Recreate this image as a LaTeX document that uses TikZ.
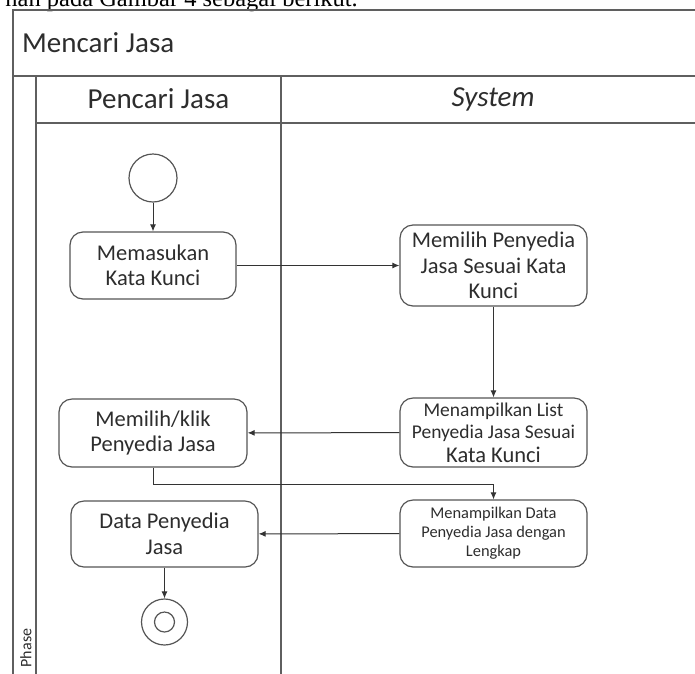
\documentclass[tikz,border=0pt]{standalone}
\usepackage{fontspec}
\setmainfont{Carlito}
\newfontfamily\serifdoc{Liberation Serif}
\usetikzlibrary{arrows.meta,calc}
\definecolor{lanecol}{RGB}{95,95,95}
\definecolor{boxcol}{RGB}{85,85,85}
\definecolor{txtcol}{RGB}{45,45,45}
\newcommand{\smlist}{\fontsize{19.5}{23}\selectfont}
\tikzset{
  lane/.style={draw=lanecol, line width=1.6pt},
  act/.style={draw=boxcol, line width=1.2pt, rounded corners=13pt, align=center,
    text=txtcol, inner sep=0pt, font=\fontsize{22.5}{25.5}\selectfont},
  flow/.style={draw=black!80, line width=1pt, -{Latex[length=7pt,width=6pt]}},
  head/.style={text=txtcol, font=\fontsize{29}{32}\selectfont, inner sep=0pt},
}
\begin{document}
\begin{tikzpicture}[x=1pt,y=-1pt]
\useasboundingbox (0,0) rectangle (695,673);
\clip (0,0) rectangle (695,673);
% clipped caption line above
\node[anchor=base east, inner sep=0pt, font=\serifdoc\fontsize{24.5}{26}\selectfont] (cap) at (358,6) {nan pada Gambar 4 sebagai berikut.};
% pool frame
\draw[lane] (13,680) -- (13,10) -- (710,10);
\draw[lane] (13,76) -- (710,76);
\draw[lane] (36,76) -- (36,680);
\draw[lane] (36,123) -- (710,123);
\draw[lane] (281,76) -- (281,680);
\node[head, anchor=west] (title) at (22,43) {Mencari Jasa};
\node[head] (lane1) at (158.5,99) {Pencari Jasa};
\node[head] (lane2) at (493,99) {\itshape System};
\node[rotate=90, text=txtcol, inner sep=0pt, font=\fontsize{16}{18}\selectfont] (phase) at (26,648) {Phase};
% start / end
\node[draw=boxcol, line width=1.2pt, circle, minimum size=48pt, inner sep=0pt] (start) at (153,178) {};
\node[draw=boxcol, line width=1.2pt, circle, minimum size=46pt, inner sep=0pt] (end) at (164.5,622) {};
\node[draw=boxcol, line width=1.2pt, circle, minimum size=20pt, inner sep=0pt] (endin) at (164.5,622) {};
% activities
\node[act, minimum width=166pt, minimum height=67pt] (masuk) at (153,265.5) {Memasukan\\Kata Kunci};
\node[act, minimum width=187pt, minimum height=81pt] (pilihsys) at (493.5,265.5) {Memilih Penyedia\\Jasa Sesuai Kata\\Kunci};
\node[act, minimum width=187pt, minimum height=69pt] (list) at (493.5,432.5) {{\smlist Menampilkan List}\\[-3pt]{\smlist Penyedia Jasa Sesuai}\\[-2pt]Kata Kunci};
\node[act, minimum width=188pt, minimum height=68pt] (klik) at (153,433) {Memilih/klik\\Penyedia Jasa};
\node[act, minimum width=187pt, minimum height=67pt, font=\fontsize{16.4}{19}\selectfont] (datasys) at (493.5,533.5) {Menampilkan Data\\Penyedia Jasa dengan\\Lengkap};
\node[act, minimum width=187pt, minimum height=66pt] (data) at (164.5,534) {Data Penyedia\\Jasa};
% flows
\draw[flow] (start) -- (masuk);
\draw[flow] (masuk) -- (pilihsys);
\draw[flow] (pilihsys) -- (list);
\draw[flow] (list) -- (klik);
\draw[flow] (klik.south) -- ++(0,17) -| (datasys.north);
\draw[flow] (datasys) -- (data);
\draw[flow] (data) -- (end);
\end{tikzpicture}
\end{document}
